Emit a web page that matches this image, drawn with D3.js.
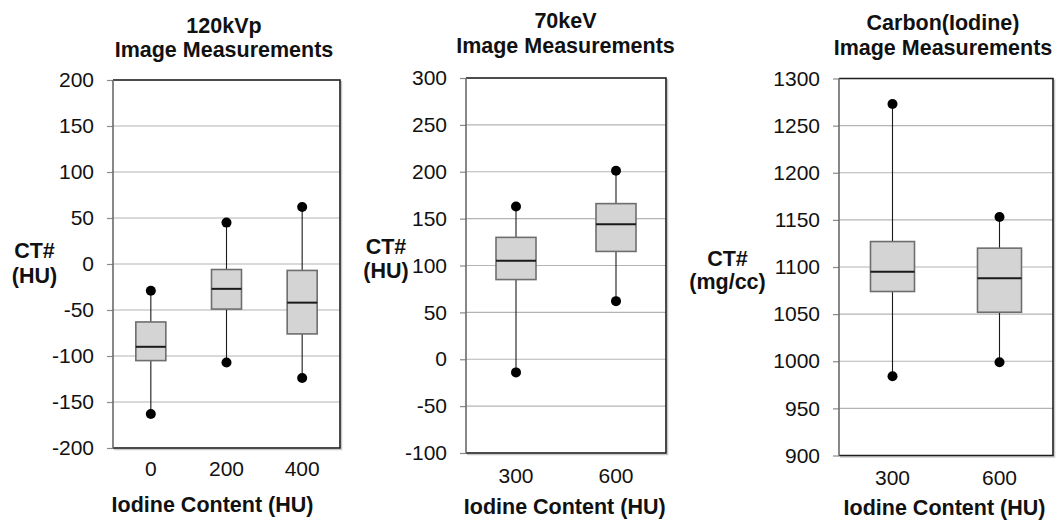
<!DOCTYPE html>
<html>
<head>
<meta charset="utf-8">
<script src="https://cdn.jsdelivr.net/npm/d3@7"></script>
<style>
  html, body { margin: 0; padding: 0; background: #fff; }
  svg { display: block; font-family: "Liberation Sans", Arial, Helvetica, sans-serif; }
</style>
</head>
<body>
<svg id="chart" width="1057" height="520"></svg>
<script>
// ---- 120kVp image measurements ----
const kvpCategories = ["0", "200", "400"];
const kvpMin    = [-163, -107, -124];
const kvpQ1     = [-105,  -49,  -76];
const kvpMedian = [ -90,  -27,  -42];
const kvpQ3     = [ -63,   -6,   -7];
const kvpMax    = [ -29,   45,   62];
const kvpTicks  = [-200, -150, -100, -50, 0, 50, 100, 150, 200];

// ---- 70keV image measurements ----
const kevCategories = ["300", "600"];
const kevMin    = [-14,  62];
const kevQ1     = [ 85, 115];
const kevMedian = [105, 144];
const kevQ3     = [130, 166];
const kevMax    = [163, 201];
const kevTicks  = [-100, -50, 0, 50, 100, 150, 200, 250, 300];

// ---- Carbon(Iodine) image measurements ----
const carbonCategories = ["300", "600"];
const carbonMin    = [ 984,  999];
const carbonQ1     = [1074, 1052];
const carbonMedian = [1095, 1088];
const carbonQ3     = [1127, 1120];
const carbonMax    = [1273, 1153];
const carbonTicks  = [900, 950, 1000, 1050, 1100, 1150, 1200, 1250, 1300];

const panels = [
  {
    title: ["120kVp", "Image Measurements"], yLabel: ["CT#", "(HU)"], xLabel: "Iodine Content (HU)",
    cats: kvpCategories, min: kvpMin, q1: kvpQ1, med: kvpMedian, q3: kvpQ3, max: kvpMax, ticks: kvpTicks,
    left: 113, right: 340, top: 80, bottom: 448, boxW: 30,
    titleX: 224, titleY: [32.5, 57], yLabX: 34.5, yLabY: [258, 283],
    xTitleX: 212.5, xTitleY: 511.5, xTickY: 476
  },
  {
    title: ["70keV", "Image Measurements"], yLabel: ["CT#", "(HU)"], xLabel: "Iodine Content (HU)",
    cats: kevCategories, min: kevMin, q1: kevQ1, med: kevMedian, q3: kevQ3, max: kevMax, ticks: kevTicks,
    left: 466, right: 666, top: 78, bottom: 453, boxW: 40,
    titleX: 565.5, titleY: [27.5, 52.5], yLabX: 386, yLabY: [254, 278],
    xTitleX: 564.7, xTitleY: 514, xTickY: 482.5
  },
  {
    title: ["Carbon(Iodine)", "Image Measurements"], yLabel: ["CT#", "(mg/cc)"], xLabel: "Iodine Content (HU)",
    cats: carbonCategories, min: carbonMin, q1: carbonQ1, med: carbonMedian, q3: carbonQ3, max: carbonMax, ticks: carbonTicks,
    left: 839, right: 1053, top: 78.5, bottom: 455.5, boxW: 44,
    titleX: 943, titleY: [30, 54.5], yLabX: 727.5, yLabY: [266, 289],
    xTitleX: 944.5, xTitleY: 514.5, xTickY: 485
  }
];

const svg = d3.select("#chart");
const ink = "#111";
const tickFont = "21px";
const boldFont = "21.5px";

panels.forEach(p => {
  const g = svg.append("g");

  const x = d3.scaleBand().domain(p.cats).range([p.left, p.right]).padding(0);
  const y = d3.scaleLinear().domain(d3.extent(p.ticks)).range([p.bottom, p.top]);

  // horizontal gridlines
  g.append("g").selectAll("line").data(p.ticks).join("line")
    .attr("x1", p.left).attr("x2", p.right)
    .attr("y1", d => y(d)).attr("y2", d => y(d))
    .attr("stroke", "#b4b4b4").attr("stroke-width", 1.2);

  // y axis with outward ticks, plain hyphen for negatives
  const yAxis = g.append("g")
    .attr("transform", `translate(${p.left},0)`)
    .call(d3.axisLeft(y).tickValues(p.ticks).tickSize(6).tickPadding(13).tickFormat(d => String(d)));
  yAxis.select(".domain").remove();
  yAxis.selectAll(".tick line").attr("stroke", "#8a8a8a").attr("stroke-width", 1.2);
  yAxis.selectAll(".tick text").attr("fill", ink).style("font-size", tickFont);

  const idx = d3.range(p.cats.length);
  const cx = i => x(p.cats[i]) + x.bandwidth() / 2;

  // whiskers
  g.append("g").selectAll("line").data(idx).join("line")
    .attr("x1", cx).attr("x2", cx)
    .attr("y1", i => y(p.max[i])).attr("y2", i => y(p.min[i]))
    .attr("stroke", "#1a1a1a").attr("stroke-width", 1.1);

  // interquartile boxes
  g.append("g").selectAll("rect").data(idx).join("rect")
    .attr("x", i => cx(i) - p.boxW / 2)
    .attr("width", p.boxW)
    .attr("y", i => y(p.q3[i]))
    .attr("height", i => y(p.q1[i]) - y(p.q3[i]))
    .attr("fill", "#d4d4d4").attr("stroke", "#6e6e6e").attr("stroke-width", 1.6);

  // medians
  g.append("g").selectAll("line").data(idx).join("line")
    .attr("x1", i => cx(i) - p.boxW / 2).attr("x2", i => cx(i) + p.boxW / 2)
    .attr("y1", i => y(p.med[i])).attr("y2", i => y(p.med[i]))
    .attr("stroke", "#1a1a1a").attr("stroke-width", 2);

  // extreme points
  const ext = idx.flatMap(i => [{ i, v: p.max[i] }, { i, v: p.min[i] }]);
  g.append("g").selectAll("circle").data(ext).join("circle")
    .attr("cx", d => cx(d.i)).attr("cy", d => y(d.v)).attr("r", 5)
    .attr("fill", "#000");

  // plot frame: soft shadow, dark top/right/bottom, grey left axis
  g.append("path")
    .attr("d", `M${p.left + 1},${p.bottom + 1.5}H${p.right + 1.5}V${p.top + 1}`)
    .attr("fill", "none").attr("stroke", "#c8c8c8").attr("stroke-width", 1.5);
  g.append("path")
    .attr("d", `M${p.left},${p.top}H${p.right}V${p.bottom}H${p.left}`)
    .attr("fill", "none").attr("stroke", "#1e1e1e").attr("stroke-width", 1.6);
  g.append("line")
    .attr("x1", p.left).attr("x2", p.left).attr("y1", p.top).attr("y2", p.bottom)
    .attr("stroke", "#6a6a6a").attr("stroke-width", 1.6);

  // x category labels
  const xAxis = g.append("g")
    .attr("transform", `translate(0,${p.xTickY})`)
    .call(d3.axisBottom(x).tickSize(0).tickPadding(0));
  xAxis.select(".domain").remove();
  xAxis.selectAll(".tick text").attr("dy", 0).attr("y", 0)
    .attr("fill", ink).style("font-size", tickFont);

  // titles
  g.append("g").selectAll("text").data(p.title).join("text")
    .attr("x", p.titleX).attr("y", (d, k) => p.titleY[k])
    .attr("text-anchor", "middle").attr("font-weight", "bold")
    .style("font-size", boldFont).attr("fill", ink).text(d => d);

  g.append("g").selectAll("text").data(p.yLabel).join("text")
    .attr("x", p.yLabX).attr("y", (d, k) => p.yLabY[k])
    .attr("text-anchor", "middle").attr("font-weight", "bold")
    .style("font-size", boldFont).attr("fill", ink).text(d => d);

  g.append("text")
    .attr("x", p.xTitleX).attr("y", p.xTitleY)
    .attr("text-anchor", "middle").attr("font-weight", "bold")
    .style("font-size", boldFont).attr("fill", ink).text(p.xLabel);
});
</script>
</body>
</html>
